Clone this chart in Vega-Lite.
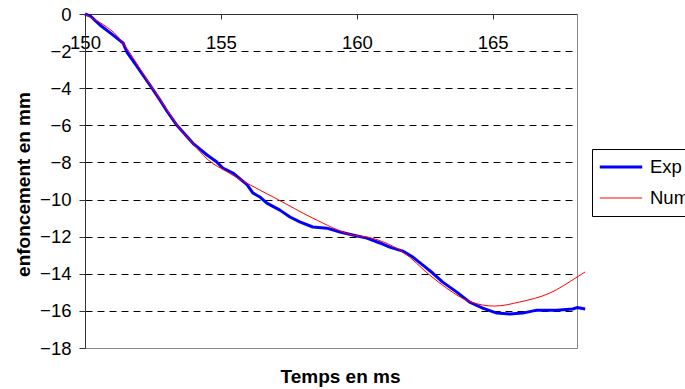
{
  "$schema": "https://vega.github.io/schema/vega-lite/v6.json",
  "width": 492,
  "height": 334,
  "autosize": "none",
  "padding": {"left": 85, "top": 14, "right": 108, "bottom": 41},
  "background": "white",
  "config": {
    "font": "Liberation Sans",
    "view": {"stroke": "#888888", "strokeWidth": 1}
  },
  "datasets": {
    "exp": [
      {"t": 150.0, "v": 0}, {"t": 150.2, "v": -0.12}, {"t": 150.55, "v": -0.59}, {"t": 151.0, "v": -1.1},
      {"t": 151.4, "v": -1.56}, {"t": 151.54, "v": -2.05}, {"t": 151.9, "v": -2.8}, {"t": 152.39, "v": -3.83},
      {"t": 152.76, "v": -4.64}, {"t": 153.0, "v": -5.2}, {"t": 153.38, "v": -6.0}, {"t": 153.97, "v": -6.97},
      {"t": 154.49, "v": -7.6}, {"t": 154.85, "v": -7.98}, {"t": 155.07, "v": -8.3}, {"t": 155.44, "v": -8.57},
      {"t": 155.96, "v": -9.2}, {"t": 156.18, "v": -9.65}, {"t": 156.43, "v": -9.86}, {"t": 156.69, "v": -10.19},
      {"t": 157.17, "v": -10.57}, {"t": 157.54, "v": -10.94}, {"t": 157.9, "v": -11.2}, {"t": 158.38, "v": -11.48},
      {"t": 158.9, "v": -11.54}, {"t": 159.38, "v": -11.75}, {"t": 159.85, "v": -11.91}, {"t": 160.37, "v": -12.08},
      {"t": 160.85, "v": -12.34}, {"t": 161.21, "v": -12.56}, {"t": 161.69, "v": -12.78}, {"t": 162.06, "v": -13.1},
      {"t": 162.43, "v": -13.53}, {"t": 162.79, "v": -13.96}, {"t": 163.16, "v": -14.45}, {"t": 163.68, "v": -14.99},
      {"t": 164.15, "v": -15.53}, {"t": 164.63, "v": -15.85}, {"t": 165.15, "v": -16.12}, {"t": 165.63, "v": -16.17},
      {"t": 166.1, "v": -16.12}, {"t": 166.62, "v": -15.96}, {"t": 167.35, "v": -15.96}, {"t": 167.94, "v": -15.9},
      {"t": 168.1, "v": -15.82}, {"t": 168.4, "v": -15.9}
    ],
    "num": [
      {"t": 150.0, "v": 0}, {"t": 150.18, "v": -0.16}, {"t": 150.7, "v": -0.6}, {"t": 151.2, "v": -1.2},
      {"t": 151.58, "v": -1.94}, {"t": 152.0, "v": -2.9}, {"t": 152.46, "v": -3.94}, {"t": 152.9, "v": -4.9},
      {"t": 153.38, "v": -5.98}, {"t": 153.86, "v": -6.79}, {"t": 154.52, "v": -7.85}, {"t": 155.22, "v": -8.5},
      {"t": 155.96, "v": -9.12}, {"t": 157.06, "v": -9.97}, {"t": 158.38, "v": -11.0}, {"t": 159.85, "v": -11.91},
      {"t": 160.48, "v": -12.05}, {"t": 161.0, "v": -12.3}, {"t": 161.7, "v": -12.83}, {"t": 162.68, "v": -14.07},
      {"t": 163.3, "v": -14.77}, {"t": 164.15, "v": -15.5}, {"t": 165.07, "v": -15.74}, {"t": 165.99, "v": -15.52},
      {"t": 167.1, "v": -15.04}, {"t": 168.1, "v": -14.18}, {"t": 168.4, "v": -13.9}
    ]
  },
  "layer": [
    {
      "data": {"name": "exp"},
      "transform": [{"calculate": "'Exp'", "as": "series"}],
      "mark": {"type": "line", "clip": false, "strokeJoin": "round"},
      "encoding": {
        "x": {"field": "t", "type": "quantitative"},
        "y": {"field": "v", "type": "quantitative"},
        "color": {"field": "series", "type": "nominal"},
        "strokeWidth": {"field": "series", "type": "nominal"}
      }
    },
    {
      "data": {"name": "num"},
      "transform": [{"calculate": "'Num'", "as": "series"}],
      "mark": {"type": "line", "clip": false, "interpolate": "monotone"},
      "encoding": {
        "x": {"field": "t", "type": "quantitative"},
        "y": {"field": "v", "type": "quantitative"},
        "color": {"field": "series", "type": "nominal"},
        "strokeWidth": {"field": "series", "type": "nominal"}
      }
    }
  ],
  "encoding": {
    "x": {
      "field": "t", "type": "quantitative",
      "scale": {"domain": [150, 168.1], "nice": false, "zero": false},
      "axis": {
        "orient": "bottom", "offset": -334,
        "values": [150, 155, 160, 165],
        "grid": false,
        "domainColor": "#333333", "tickColor": "#333333", "tickSize": 5,
        "labelFontSize": 18.5, "labelColor": "black", "labelPadding": 14, "labelFlush": false,
        "title": "Temps en ms", "titleFontSize": 19, "titleFontWeight": "bold", "titleColor": "black",
        "titleX": 255, "titleY": 362, "titleBaseline": "middle"
      }
    },
    "y": {
      "field": "v", "type": "quantitative",
      "scale": {"domain": [-18, 0], "nice": false},
      "axis": {
        "values": [0, -2, -4, -6, -8, -10, -12, -14, -16, -18],
        "grid": true, "gridColor": "black", "gridDash": [7, 5], "gridWidth": 1,
        "gridOpacity": {"condition": {"test": "datum.value === 0 || datum.value === -18", "value": 0}, "value": 1},
        "domainColor": "#333333", "tickColor": "#333333", "tickSize": 6,
        "labelFontSize": 18.5, "labelColor": "black", "labelPadding": 8,
        "title": "enfoncement en mm", "titleFontSize": 19, "titleFontWeight": "bold", "titleColor": "black",
        "titleX": -62, "titleY": 170, "titleBaseline": "middle", "titleAngle": 270
      }
    },
    "color": {
      "field": "series", "type": "nominal",
      "scale": {"domain": ["Exp", "Num"], "range": ["#0000FF", "#FF0000"]},
      "legend": {
        "title": null, "orient": "none", "legendX": 507, "legendY": 135,
        "strokeColor": "black", "fillColor": "white", "padding": 6,
        "symbolType": "stroke", "symbolSize": 1800, "clipHeight": 24, "rowPadding": 7,
        "labelFontSize": 18.5, "labelColor": "black", "labelOffset": 6
      }
    },
    "strokeWidth": {
      "field": "series", "type": "nominal",
      "scale": {"domain": ["Exp", "Num"], "range": [3, 1]},
      "legend": {
        "title": null, "orient": "none", "legendX": 507, "legendY": 135,
        "strokeColor": "black", "fillColor": "white", "padding": 6,
        "symbolType": "stroke", "symbolSize": 1800, "clipHeight": 24, "rowPadding": 7,
        "labelFontSize": 18.5, "labelColor": "black", "labelOffset": 6
      }
    }
  }
}
